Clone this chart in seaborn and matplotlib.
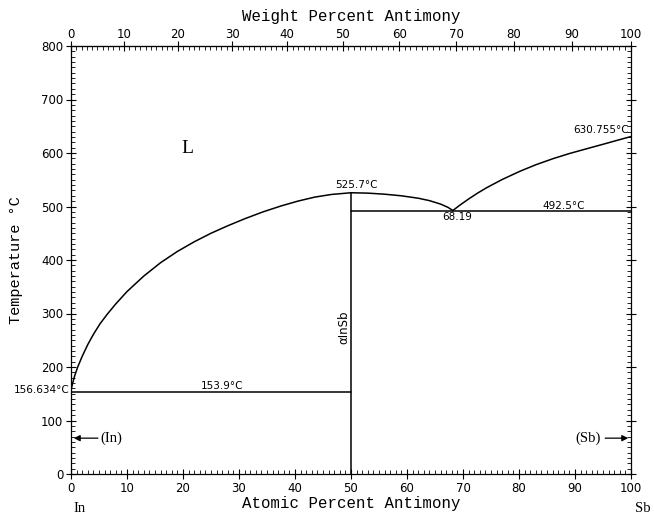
import numpy as np
import pandas as pd
import matplotlib
matplotlib.use("Agg")
import matplotlib.pyplot as plt
import seaborn as sns
from matplotlib.ticker import MultipleLocator, FixedLocator

sns.set_style("ticks")
plt.rcParams['font.family'] = ['DejaVu Sans']
plt.rcParams['xtick.color'] = 'black'
plt.rcParams['ytick.color'] = 'black'
plt.rcParams['text.color'] = 'black'
plt.rcParams['axes.labelcolor'] = 'black'

# ---- data ----
left_liq_x = [0.0, 0.3, 0.7, 1.2, 2.0, 3.0, 4.0, 5.2, 6.5, 8.0, 10, 13, 16, 19,
              22, 25, 28, 31, 34.3, 37.5, 40.5, 43.5, 46.5, 50.0]
left_liq_T = [156.634, 170, 185, 200, 220, 242, 261, 281, 299, 318, 341, 370, 395, 416,
              434, 450, 464, 477, 490, 501, 510, 517.5, 522.5, 525.7]
mid_liq_x = [50.0, 53, 56, 59, 62, 64, 66, 67.3, 68.19]
mid_liq_T = [525.7, 525, 523, 520, 515.5, 511, 504.5, 498.5, 492.5]
right_liq_x = [68.19, 69.5, 71, 72.6, 74.2, 77, 80.2, 83, 86.1, 89, 92.1, 95, 97.5, 100.0]
right_liq_T = [492.5, 503, 514, 525, 535, 550.5, 566, 578, 589.5, 599, 608, 616.3, 623.6, 630.755]
eut1_x = [0, 50]
eut1_T = [153.9, 153.9]
eut2_x = [50, 100]
eut2_T = [492.5, 492.5]
comp_x = [50, 50]
comp_T = [0, 525.7]
wt_ticks = [0, 10, 20, 30, 40, 50, 60, 70, 80, 90, 100]
wt_minor = list(range(0, 101))

M_IN, M_SB = 114.818, 121.760

def at2wt(x):
    x = np.asarray(x, dtype=float)
    return 100 * x * M_SB / (x * M_SB + (100 - x) * M_IN)

def wt2at(w):
    w = np.asarray(w, dtype=float)
    a = w / M_SB
    b = (100 - w) / M_IN
    return 100 * a / (a + b)

fig = plt.figure(figsize=(6.54, 5.15), dpi=100)
ax = fig.add_axes([71/654, 41/515, 560/654, 428/515])

lw = 1.1
for xs, ts in [(left_liq_x, left_liq_T), (mid_liq_x, mid_liq_T), (right_liq_x, right_liq_T),
               (eut1_x, eut1_T), (eut2_x, eut2_T), (comp_x, comp_T)]:
    df = pd.DataFrame({"x": xs, "T": ts})
    sns.lineplot(data=df, x="x", y="T", ax=ax, color="black", lw=lw,
                 sort=False, estimator=None)

tickfont = ['Liberation Sans Narrow', 'DejaVu Sans']

ax.set_xlim(0, 100)
ax.set_ylim(0, 800)
ax.xaxis.set_major_locator(MultipleLocator(10))
ax.xaxis.set_minor_locator(MultipleLocator(1))
ax.yaxis.set_major_locator(MultipleLocator(100))
ax.yaxis.set_minor_locator(MultipleLocator(10))
ax.tick_params(which='major', direction='inout', length=7, width=0.8, labelsize=8.5,
               right=True, top=False, pad=2)
ax.tick_params(which='minor', direction='in', length=3, width=0.6, right=True, top=False)
ax.tick_params(axis='y', which='major', right=True, labelright=False)
for lab in ax.get_xticklabels() + ax.get_yticklabels():
    lab.set_fontfamily(tickfont)
for s in ax.spines.values():
    s.set_linewidth(0.9)
    s.set_color('black')

mono = 'Liberation Mono'
ax.set_xlabel("Atomic Percent Antimony", fontfamily=mono, fontsize=11.3, labelpad=1)
ax.set_ylabel("Temperature °C", fontfamily=mono, fontsize=11, labelpad=13)

sec = ax.secondary_xaxis('top', functions=(at2wt, wt2at))
sec.xaxis.set_major_locator(FixedLocator(wt_ticks))
sec.xaxis.set_minor_locator(FixedLocator(wt_minor))
sec.tick_params(which='major', direction='inout', length=7, width=0.8, labelsize=8.5, pad=0,
                colors='black')
sec.tick_params(which='minor', direction='in', length=3, width=0.6)
for lab in sec.get_xticklabels():
    lab.set_fontfamily(tickfont)
sec.set_xlabel("Weight Percent Antimony", fontfamily=mono, fontsize=11.3, labelpad=5)

fs = 7.5
ax.text(50.9, 540, "525.7°C", ha='center', va='center', fontsize=fs)
ax.text(68.9, 480, "68.19", ha='center', va='center', fontsize=fs)
ax.text(87.9, 501, "492.5°C", ha='center', va='center', fontsize=fs)
ax.text(99.6, 643, "630.755°C", ha='right', va='center', fontsize=fs)
ax.text(27, 164, "153.9°C", ha='center', va='center', fontsize=fs)
ax.text(-0.3, 156.634, "156.634°C", ha='right', va='center', fontsize=fs)
ax.text(20.7, 609, "L", ha='center', va='center', fontsize=14, fontfamily='Liberation Serif')
ax.text(48.7, 275, "αInSb", rotation=90, ha='center', va='center', fontsize=8.5)

ax.annotate("", xy=(0, 67), xytext=(5.3, 67),
            arrowprops=dict(arrowstyle='-|>', color='black', lw=0.9, mutation_scale=9))
ax.text(5.3, 67, "(In)", ha='left', va='center', fontsize=10.5, fontfamily='Liberation Serif')
ax.annotate("", xy=(100, 67), xytext=(94.9, 67),
            arrowprops=dict(arrowstyle='-|>', color='black', lw=0.9, mutation_scale=9))
ax.text(94.6, 67, "(Sb)", ha='right', va='center', fontsize=10.5, fontfamily='Liberation Serif')

ax.text(0.015, -0.065, "In", transform=ax.transAxes, ha='center', va='top', fontsize=10.5,
        fontfamily='Liberation Serif')
ax.text(1.008, -0.065, "Sb", transform=ax.transAxes, ha='left', va='top', fontsize=10.5,
        fontfamily='Liberation Serif')

fig.savefig("out.png", dpi=100)
